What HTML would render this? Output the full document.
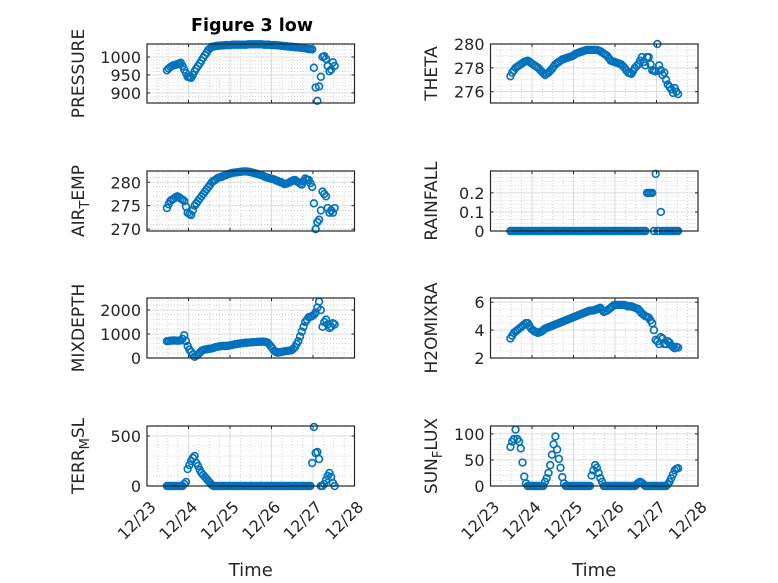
<!DOCTYPE html>
<html><head><meta charset="utf-8"><style>
html,body{margin:0;padding:0;background:#fff;}
svg{display:block;font-family:"DejaVu Sans","Liberation Sans",sans-serif;}
</style></head><body>
<svg id="fig" width="778" height="583" viewBox="0 0 778 583" xmlns="http://www.w3.org/2000/svg">
<rect width="778" height="583" fill="#fff"/>
<text x="252" y="31" text-anchor="middle" font-size="17.5" font-weight="bold" fill="#000">Figure 3 low</text>
</svg>
<script>
// time: days since 12/23, hourly steps starting at 0.48
const tStart = 0.48;
const tStepHours = 1;
const xTickLabels = ["12/23","12/24","12/25","12/26","12/27","12/28"];
const pressure = [963,968,972,975,977,978,980,982,984,975,965,955,945,943,942,950,960,968,975,982,990,998,1005,1012,1020,1024,1028,1029,1030,1031,1031,1032,1032,1032,1033,1033,1033,1033,1034,1034,1034,1034,1034,1034,1034,1034,1034,1035,1035,1035,1035,1035,1035,1035,1035,1035,1034,1034,1034,1034,1033,1033,1033,1033,1032,1032,1031,1031,1030,1030,1029,1029,1028,1028,1027,1027,1026,1026,1025,1025,1024,1023,1022,1022,1021,970,915,878,918,945,1000,1002,995,975,960,965,985,975];
const theta = [277.3,277.6,277.8,278.0,278.1,278.2,278.3,278.4,278.5,278.55,278.6,278.5,278.4,278.3,278.2,278.1,278.0,277.85,277.7,277.55,277.4,277.5,277.6,277.75,277.9,278.1,278.3,278.4,278.5,278.6,278.7,278.75,278.8,278.85,278.9,278.95,279.0,279.1,279.2,279.25,279.3,279.35,279.4,279.45,279.5,279.5,279.5,279.5,279.5,279.5,279.5,279.45,279.4,279.3,279.2,279.1,279.0,278.8,278.6,278.55,278.5,278.45,278.4,278.35,278.3,278.15,278.0,277.8,277.6,277.55,277.5,277.75,278.0,278.15,278.3,278.6,278.9,278.5,278.2,278.9,278.9,278.3,277.8,277.75,277.7,280.0,278.2,277.8,277.4,277.6,277.0,276.6,276.4,276.2,275.9,276.3,276.0,275.8];
const airTemp = [274.5,275.3,276,276.3,276.5,276.8,277,276.8,276.5,276.3,276,274.8,273.5,273.2,273,274,275,275.5,276,276.5,277,277.5,278,278.5,279,279.5,280,280.3,280.5,280.8,281,281.1,281.2,281.4,281.5,281.7,281.8,281.9,282,282.05,282.1,282.15,282.2,282.25,282.3,282.3,282.3,282.25,282.2,282.1,282.0,281.9,281.8,281.7,281.6,281.5,281.3,281.1,281,280.9,280.8,280.7,280.6,280.4,280.3,280.1,280,279.8,279.6,279.7,279.8,280,280.2,280.4,280.5,280.2,280,279.7,279.5,280.2,280.8,280.6,280.5,279.8,279.0,275.5,270,271.5,272,274,278,277.5,277,274.5,273.5,274,273.5,274.5];
const rainfall = [0,0,0,0,0,0,0,0,0,0, 0,0,0,0,0,0,0,0,0,0, 0,0,0,0,0,0,0,0,0,0, 0,0,0,0,0,0,0,0,0,0, 0,0,0,0,0,0,0,0,0,0, 0,0,0,0,0,0,0,0,0,0, 0,0,0,0,0,0,0,0,0,0, 0,0,0,0,0,0,0,0,0,0.2, 0.2,0.2,0.2,0,0.3,0,0,0.1,0,0, 0,0,0,0,0,0,0,0];
const mixDepth = [700,710,720,725,730,725,720,725,730,800,950,700,500,350,250,150,50,100,150,220,300,330,350,365,380,390,400,420,450,465,480,490,500,500,500,510,520,535,550,565,580,590,600,610,620,630,640,645,650,655,660,665,670,675,680,680,680,670,650,580,500,400,300,260,220,235,250,265,280,290,300,310,320,380,450,580,700,900,1100,1300,1500,1600,1700,1720,1750,1800,1900,2100,2350,2000,1300,1500,1600,1400,1250,1300,1450,1400];
const h2oMixRa = [3.4,3.6,3.8,3.9,4.0,4.1,4.2,4.3,4.4,4.5,4.5,4.3,4.1,4.0,3.9,3.85,3.8,3.85,3.9,4.0,4.1,4.15,4.2,4.25,4.3,4.35,4.4,4.45,4.5,4.55,4.6,4.65,4.7,4.75,4.8,4.85,4.9,4.95,5.0,5.05,5.1,5.15,5.2,5.25,5.3,5.35,5.4,5.4,5.4,5.45,5.5,5.55,5.6,5.45,5.3,5.35,5.4,5.5,5.6,5.7,5.8,5.8,5.8,5.8,5.8,5.8,5.8,5.75,5.7,5.7,5.7,5.65,5.6,5.55,5.5,5.35,5.2,5.1,5.0,4.95,4.9,4.7,4.5,4.0,3.3,3.2,3.0,3.5,3.4,3.0,3.0,3.2,3.1,2.9,2.8,2.7,2.8,2.75];
const terrMsl = [0,0,0,0,0,0,0,0,0,0, 20,40,170,210,250,280,300,230,200,160, 130,110,90,70,50,30,10,0,0,0, 0,0,0,0,0,0,0,0,0,0, 0,0,0,0,0,0,0,0,0,0, 0,0,0,0,0,0,0,0,0,0, 0,0,0,0,0,0,0,0,0,0, 0,0,0,0,0,0,0,0,0,0, 0,0,0,0,230,590,330,340,270,0, 0,20,60,100,130,90,30,0];
const sunFlux = [75,85,90,108,90,85,72,45,18,5, 0,0,0,0,0,0,0,0,0,0, 8,15,25,40,60,80,95,70,52,35, 17,5,0,0,0,0,0,0,0,0, 0,0,0,0,0,0,0,20,30,40, 35,25,15,8,0,0,0,0,0,0, 0,0,0,0,0,0,0,0,0,0, 0,0,0,3,6,8,6,3,0,0, 0,0,0,0,0,0,0,0,0,0, 0,3,8,15,22,30,33,34];

const svg = document.getElementById('fig');
const NS = 'http://www.w3.org/2000/svg';
function mk(tag, attrs){const e=document.createElementNS(NS,tag);for(const k in attrs)e.setAttribute(k,attrs[k]);return e;}

const cols = [{x0:147,x1:354.5},{x0:490.5,x1:698}];
const rows = [{y0:44,y1:103},{y0:171,y1:231},{y0:298,y1:358},{y0:426,y1:486}];
const panels = [
 {name:'pressure',data:pressure,c:0,r:0,ymin:872,ymax:1036,yt:[900,950,1000],yminor:10,label:['PRESSURE']},
 {name:'theta',data:theta,c:1,r:0,ymin:275.05,ymax:280,yt:[276,278,280],yminor:0.5,label:['THETA']},
 {name:'air-temp',data:airTemp,c:0,r:1,ymin:269.6,ymax:282.4,yt:[270,275,280],yminor:1,label:['AIR','T','EMP']},
 {name:'rainfall',data:rainfall,c:1,r:1,ymin:0,ymax:0.315,yt:[0,0.1,0.2],yminor:0.02,label:['RAINFALL']},
 {name:'mixdepth',data:mixDepth,c:0,r:2,ymin:0,ymax:2500,yt:[0,1000,2000],yminor:200,label:['MIXDEPTH']},
 {name:'h2omixra',data:h2oMixRa,c:1,r:2,ymin:2,ymax:6.3,yt:[2,4,6],yminor:0.5,label:['H2OMIXRA']},
 {name:'terr-msl',data:terrMsl,c:0,r:3,ymin:0,ymax:600,yt:[0,500],yminor:100,label:['TERR','M','SL']},
 {name:'sun-flux',data:sunFlux,c:1,r:3,ymin:0,ymax:115,yt:[0,50,100],yminor:10,label:['SUN','F','LUX']}
];

panels.forEach(p=>{
  const C=cols[p.c], R=rows[p.r];
  const xs = t => C.x0 + (t/5)*(C.x1-C.x0);
  const ys = v => R.y1 - (v-p.ymin)/(p.ymax-p.ymin)*(R.y1-R.y0);
  const g = mk('g',{});
  
  
  svg.appendChild(g);
  for(let d=0; d<=5; d+=0.25){ if(Math.abs(d-Math.round(d))<1e-6) continue;
    g.appendChild(mk('line',{x1:xs(d),x2:xs(d),y1:R.y0,y2:R.y1,stroke:'#c8c8c8','stroke-width':0.8,'stroke-dasharray':'1 2'}));}
  for(let v=Math.ceil(p.ymin/p.yminor)*p.yminor; v<=p.ymax; v+=p.yminor){
    if(p.yt.some(t=>Math.abs(t-v)<1e-6)) continue;
    g.appendChild(mk('line',{x1:C.x0,x2:C.x1,y1:ys(v),y2:ys(v),stroke:'#c8c8c8','stroke-width':0.8,'stroke-dasharray':'1 2'}));}
  for(let d=1; d<5; d++) g.appendChild(mk('line',{x1:xs(d),x2:xs(d),y1:R.y0,y2:R.y1,stroke:'#dcdcdc','stroke-width':1}));
  p.yt.forEach(v=>{ if(v>p.ymin+1e-9 && v<p.ymax) g.appendChild(mk('line',{x1:C.x0,x2:C.x1,y1:ys(v),y2:ys(v),stroke:'#dcdcdc','stroke-width':1}));});
  for(let d=0; d<=5; d++){
    g.appendChild(mk('line',{x1:xs(d),x2:xs(d),y1:R.y1,y2:R.y1-3,stroke:'#262626','stroke-width':1}));
    g.appendChild(mk('line',{x1:xs(d),x2:xs(d),y1:R.y0,y2:R.y0+3,stroke:'#262626','stroke-width':1}));
  }
  p.yt.forEach(v=>{
    g.appendChild(mk('line',{x1:C.x0,x2:C.x0+3,y1:ys(v),y2:ys(v),stroke:'#262626','stroke-width':1}));
    g.appendChild(mk('line',{x1:C.x1,x2:C.x1-3,y1:ys(v),y2:ys(v),stroke:'#262626','stroke-width':1}));
    const tl = mk('text',{x:C.x0-6,y:ys(v)+6,'text-anchor':'end','font-size':16,fill:'#262626'});
    
    
    tl.textContent = String(v);
    g.appendChild(tl);
  });
  p.data.forEach((v,i)=>{
    const t = tStart + i*tStepHours/24;
    const c = mk('circle',{cx:xs(t),cy:ys(v),r:3.4,fill:'none',stroke:'#0072BD','stroke-width':1.6});
    
    
    g.appendChild(c);
  });
  g.appendChild(mk('rect',{x:C.x0,y:R.y0,width:C.x1-C.x0,height:R.y1-R.y0,fill:'none',stroke:'#262626','stroke-width':1.2}));
  const lx = p.c===0 ? 84 : 437;
  const ly = (R.y0+R.y1)/2;
  const lab = mk('text',{transform:`translate(${lx},${ly}) rotate(-90)`,'text-anchor':'middle','font-size':17,fill:'#262626'});
  
  
  if(p.label.length===1){ lab.textContent=p.label[0]; }
  else {
    const a=mk('tspan',{}); a.textContent=p.label[0]; lab.appendChild(a);
    const b=mk('tspan',{'font-size':13,dy:5}); b.textContent=p.label[1]; lab.appendChild(b);
    const c=mk('tspan',{dy:-5}); c.textContent=p.label[2]; lab.appendChild(c);
  }
  g.appendChild(lab);
  if(p.r===3){
    xTickLabels.forEach((s,d)=>{
      const x=xs(d), y=R.y1+8;
      const tl=mk('text',{transform:`translate(${x+10},${y+14}) rotate(-45)`,'text-anchor':'end','font-size':16,fill:'#262626'});
      
      
      tl.textContent=s;
      g.appendChild(tl);
    });
    const xt=mk('text',{x:(C.x0+C.x1)/2,y:576,'text-anchor':'middle','font-size':18,fill:'#262626'});
    
    
    xt.textContent='Time';
    g.appendChild(xt);
  }
});
</script>
</body></html>
